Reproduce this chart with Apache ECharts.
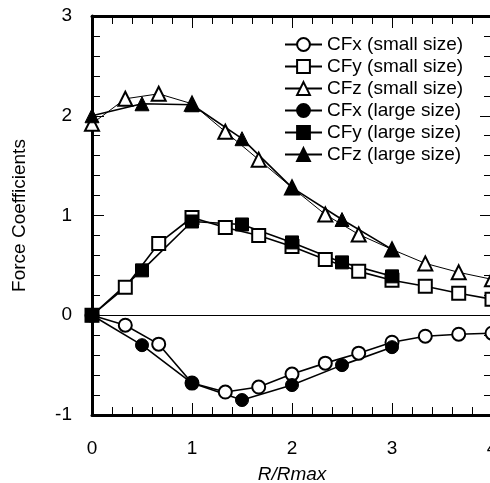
<!DOCTYPE html>
<html>
<head>
<meta charset="utf-8">
<script src="https://cdn.jsdelivr.net/npm/echarts@6/dist/echarts.min.js"></script>
<style>
html,body{margin:0;padding:0;background:#fff;}
#chart{width:490px;height:483px;}
</style>
</head>
<body>
<div id="chart"></div>
<script>
const xSmall = [0, 0.333, 0.667, 1, 1.333, 1.667, 2, 2.333, 2.667, 3, 3.333, 3.667, 4];
const xLarge = [0, 0.5, 1, 1.5, 2, 2.5, 3];
const cfxSmall = [0, -0.10, -0.29, -0.68, -0.77, -0.72, -0.59, -0.48, -0.38, -0.27, -0.21, -0.19, -0.18];
const cfySmall = [0, 0.28, 0.72, 0.98, 0.88, 0.80, 0.69, 0.56, 0.44, 0.35, 0.29, 0.22, 0.16];
const cfzSmall = [1.92, 2.17, 2.22, 2.12, 1.84, 1.56, 1.28, 1.01, 0.81, 0.66, 0.52, 0.43, 0.36];
const cfxLarge = [0, -0.30, -0.68, -0.85, -0.70, -0.50, -0.32];
const cfyLarge = [0, 0.45, 0.94, 0.91, 0.73, 0.53, 0.39];
const cfzLarge = [2.00, 2.12, 2.11, 1.77, 1.28, 0.96, 0.66];
const seriesNames = ['CFx (small size)', 'CFy (small size)', 'CFz (small size)', 'CFx (large size)', 'CFy (large size)', 'CFz (large size)'];
const xTicks = [0, 1, 2, 3, 4];
const yTicks = [-1, 0, 1, 2, 3];

const FONT = 'Liberation Sans, Arial, sans-serif';
function pairs(xs, ys) { return xs.map((x, i) => [x, ys[i]]); }

const chart = echarts.init(document.getElementById('chart'), null, {renderer: 'canvas'});

function xAx(pos, labels) {
  return {
    type: 'value', min: xTicks[0], max: xTicks[xTicks.length - 1], interval: 1, position: pos,
    axisLine: {show: true, onZero: false, lineStyle: {color: '#000', width: 3}},
    axisTick: {show: true, inside: true, length: 12, lineStyle: {color: '#000', width: 1}},
    minorTick: {show: true, splitNumber: 5, length: 8, lineStyle: {color: '#000', width: 1}},
    axisLabel: {show: labels, margin: 24, color: '#000', fontSize: 19, fontFamily: FONT},
    splitLine: {show: false},
    name: labels ? 'R/Rmax' : '', nameLocation: 'middle', nameGap: 50,
    nameTextStyle: {fontStyle: 'italic', color: '#000', fontSize: 19, fontFamily: FONT}
  };
}
function yAx(pos, labels) {
  return {
    type: 'value', min: yTicks[0], max: yTicks[yTicks.length - 1], interval: 1, position: pos,
    axisLine: {show: true, onZero: false, lineStyle: {color: '#000', width: 3}},
    axisTick: {show: true, inside: true, length: 12, lineStyle: {color: '#000', width: 1}},
    minorTick: {show: true, splitNumber: 5, length: 8, lineStyle: {color: '#000', width: 1}},
    axisLabel: {show: labels, margin: 20, color: '#000', fontSize: 19, fontFamily: FONT},
    splitLine: {show: false},
    name: labels ? 'Force Coefficients' : '', nameLocation: 'middle', nameGap: 63,
    nameTextStyle: {color: '#000', fontSize: 19, fontFamily: FONT}
  };
}

function mk(name, xs, ys, symbol, size, lw, extra) {
  return Object.assign({
    name: name, type: 'line', data: pairs(xs, ys),
    xAxisIndex: 0, yAxisIndex: 0,
    symbol: symbol, symbolSize: size, showAllSymbol: true,
    lineStyle: {color: '#000', width: lw},
    itemStyle: {color: '#000', borderColor: '#000', borderWidth: 1},
    emphasis: {disabled: true},
    clip: false
  }, extra || {});
}

const option = {
  animation: false,
  backgroundColor: '#fff',
  grid: {left: 92, top: 16, width: 400, height: 399, containLabel: false, outerBoundsMode: 'none'},
  xAxis: [xAx('bottom', true), xAx('top', false)],
  yAxis: [yAx('left', true), yAx('right', false)],
  legend: {
    orient: 'vertical', left: 279, top: 30,
    itemWidth: 37, itemHeight: 16, itemGap: 3,
    textStyle: {color: '#000', fontSize: 19, fontFamily: FONT},
    data: seriesNames, selectedMode: false
  },
  series: [
    mk(seriesNames[0], xSmall, cfxSmall, 'emptyCircle', 13, 1.6, {
      markLine: {silent: true, symbol: 'none', label: {show: false},
        lineStyle: {color: '#000', width: 1, type: 'solid'}, data: [{yAxis: 0}]}
    }),
    mk(seriesNames[1], xSmall, cfySmall, 'emptyRect', 13, 1.6),
    mk(seriesNames[2], xSmall, cfzSmall, 'emptyTriangle', 14, 1),
    mk(seriesNames[3], xLarge, cfxLarge, 'circle', 13, 1.6),
    mk(seriesNames[4], xLarge, cfyLarge, 'rect', 13, 1.6),
    mk(seriesNames[5], xLarge, cfzLarge, 'triangle', 14, 1.6)
  ]
};
chart.setOption(option);
</script>
</body>
</html>
